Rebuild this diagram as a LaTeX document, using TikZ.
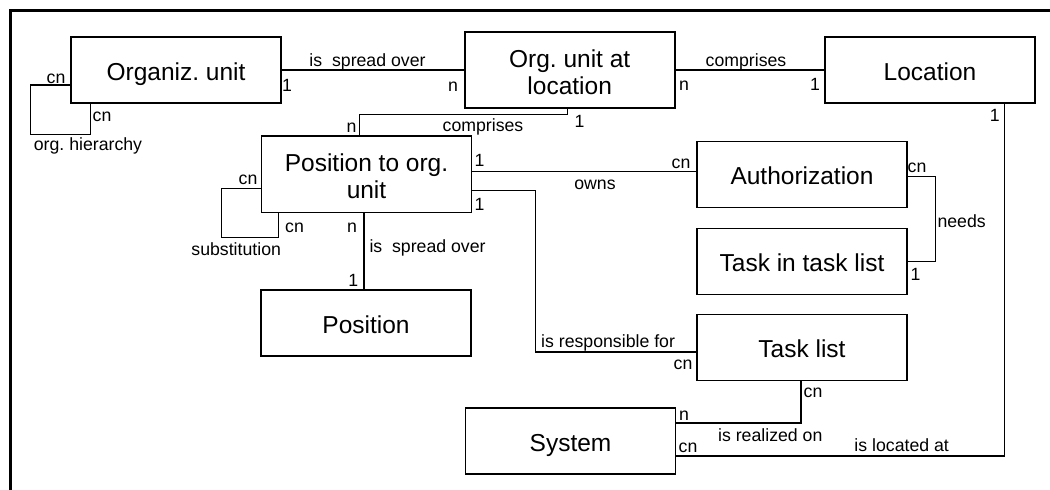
\documentclass[tikz,border=0pt]{standalone}
\usepackage{fontspec}
\setmainfont{Liberation Sans}
\frenchspacing
\usetikzlibrary{calc}
\begin{document}
\begin{tikzpicture}[x=1pt,y=-1pt]
\tikzset{
  entity/.style={draw, line width=1.6pt, minimum width=210pt, minimum height=66pt,
    inner sep=0pt, font=\fontsize{24.5}{27}\selectfont, text height=24pt, text depth=4pt},
  entitytwo/.style={entity, minimum height=76.5pt, align=center, text height=50pt, text depth=2pt},
  rel/.style={line width=1.3pt},
  tag/.style={inner sep=0pt, anchor=base, font=\fontsize{17.7}{20}\selectfont},
  tagw/.style={tag, anchor=base west},
}
\useasboundingbox (0,0) rectangle (1050,490);
% frame edges
\draw[line width=3pt] (10,490) -- (10,10) -- (1050,10);

% entities
\node[entity]    (OU)   at (176,70)    {Organiz. unit};
\node[entitytwo] (OUL)  at (569.7,70)  {Org. unit at\\location};
\node[entity]    (LOC)  at (930,70)    {Location};
\node[entitytwo] (PTO)  at (366.5,174.2) {Position to org.\\unit};
\node[entity]    (AUTH) at (802,174.6) {Authorization};
\node[entity]    (TTL)  at (802,261.5) {Task in task list};
\node[entity]    (POS)  at (366,323)   {Position};
\node[entity]    (TL)   at (802,347.5) {Task list};
\node[entity]    (SYS)  at (570.5,441) {System};

% relationships
\draw[rel] (OU.east) -- (OUL.west);
\draw[rel] (OUL.east) -- (LOC.west);
\draw[rel] ($(LOC.south east)+(-31,0)$) |- ($(SYS.east)+(0,15)$);
\draw[rel] ($(PTO.north)+(-7,0)$) |- ($(OUL.south)+(-2.4,5.5)$) -- ($(OUL.south)+(-2.4,0)$);
\draw[rel] ($(PTO.east)+(0,-3)$) coordinate (ow) -- (ow -| AUTH.west);
\draw[rel] ($(PTO.east)+(0,16.5)$) -| ($(TL.west)+(-161,4.5)$) -- ($(TL.west)+(0,4.5)$);
\draw[rel] ($(PTO.south)+(-2.5,0)$) coordinate (sp) -- (sp |- POS.north);
\draw[rel] ($(PTO.west)+(0,14)$) -- ++(-39,0) |- ($(PTO.south west)+(18,24)$) -- ($(PTO.south west)+(18,0)$);
\draw[rel] ($(OU.west)+(0,15)$) -- ++(-40,0) |- ($(OU.south west)+(20,31)$) -- ($(OU.south west)+(20,0)$);
\draw[rel] ($(AUTH.east)+(0,2)$) -- ++(28,0) |- (TTL.east);
\draw[rel] ($(TL.south)+(-1,0)$) |- ($(SYS.east)+(0,-18)$);

% relationship names and cardinalities
\node[tag] (t1) at (367.5,66.7) {is\ \ spread over};
\node[tag] (t2) at (287,91) {1};
\node[tag] (t3) at (453,91) {n};
\node[tag] (t4) at (746,66.7) {comprises};
\node[tag] (t5) at (684,90) {n};
\node[tag] (t6) at (815,90) {1};
\node[tag] (t7) at (56,83) {cn};
\node[tag] (t8) at (102,121.7) {cn};
\node[tag] (t9) at (88,150) {org. hierarchy};
\node[tag] (t10) at (351.5,132.7) {n};
\node[tag] (t11) at (483,131.7) {comprises};
\node[tag] (t12) at (579.5,127.7) {1};
\node[tag] (t13) at (479.5,166.7) {1};
\node[tag] (t14) at (681,168.3) {cn};
\node[tag] (t15) at (595,189) {owns};
\node[tag] (t16) at (479.5,210) {1};
\node[tagw] (t17) at (541,347.7) {is responsible for};
\node[tag] (t18) at (683,369.3) {cn};
\node[tag] (t19) at (352,232.3) {n};
\node[tagw] (t20) at (369.3,252.7) {is\ \ spread over};
\node[tag] (t21) at (353.3,286.7) {1};
\node[tag] (t22) at (248,184.3) {cn};
\node[tag] (t23) at (294.5,232.3) {cn};
\node[tag] (t24) at (236.2,255) {substitution};
\node[tag] (t25) at (917,172.7) {cn};
\node[tagw] (t26) at (937.3,227) {needs};
\node[tag] (t27) at (915.5,280) {1};
\node[tag] (t28) at (813,397.7) {cn};
\node[tag] (t29) at (684,420.7) {n};
\node[tag] (t30) at (770.3,441.7) {is realized on};
\node[tag] (t31) at (994.7,121.7) {1};
\node[tag] (t32) at (901.7,451.7) {is located at};
\node[tag] (t33) at (688,452.7) {cn};
\end{tikzpicture}
\end{document}
